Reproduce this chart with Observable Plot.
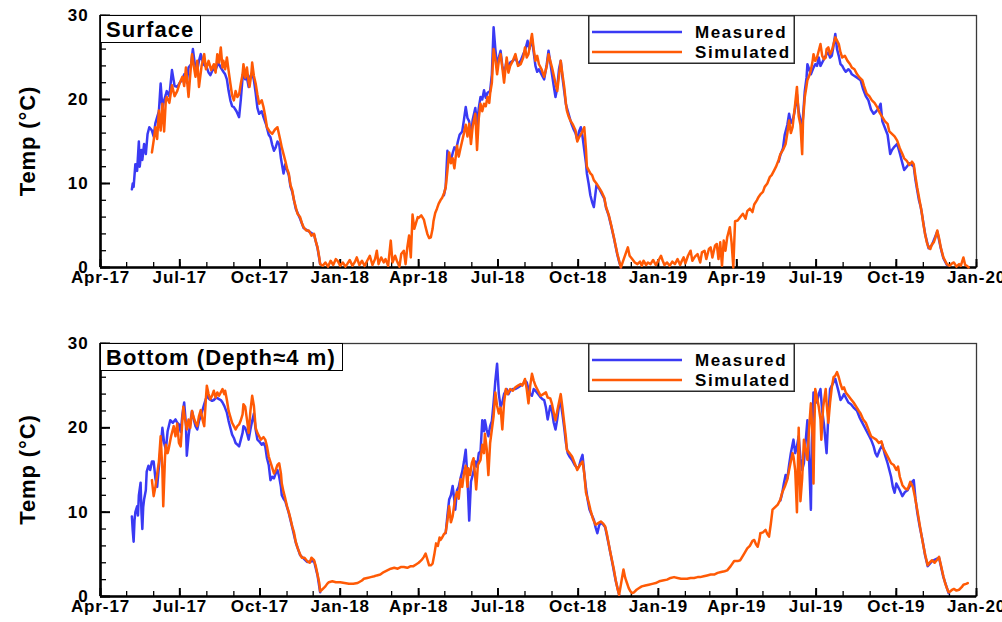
<!DOCTYPE html>
<html>
<head>
<meta charset="utf-8">
<script src="https://cdn.jsdelivr.net/npm/d3@7"></script>
<script src="https://cdn.jsdelivr.net/npm/@observablehq/plot@0.6"></script>
<style>
  html, body { margin: 0; padding: 0; background: #fff; overflow: hidden; }
  body { font-family: "Liberation Sans", Arial, sans-serif; }
  .panel { position: relative; width: 1002px; height: 311px; }
  .panel svg.plot { position: absolute; left: 0; top: 0; }
  .tag {
    position: absolute; left: 100px; box-sizing: border-box;
    height: 28px; line-height: 27px; padding: 0 6px 0 5px;
    border: 1.5px solid #000; background: #fff;
    font-weight: bold; font-size: 22px; color: #000; letter-spacing: 1.1px; white-space: nowrap;
  }
  .legend { position: absolute; left: 588px; width: 207px; height: 49px; }
</style>
</head>
<body>
<div class="panel" id="surface">
  <div class="tag" style="top:15px">Surface</div>
  <svg class="legend" style="top:15px" viewBox="0 0 207 49"></svg>
</div>
<div class="panel" id="bottom">
  <div class="tag" style="top:32px">Bottom (Depth≈4 m)</div>
  <svg class="legend" style="top:32px" viewBox="0 0 207 49"></svg>
</div>
<script>
// Water temperature at the surface and near the bottom, measured vs simulated.
// Each pair is [days since 2017-04-01, temperature in °C]; null marks a gap.
const startDate = "2017-04-01";
const endDate = "2020-01-01";
const seriesNames = ["Measured", "Simulated"];
const yTicks = [0, 10, 20, 30];
const yTitle = "Temp (°C)";

const surfaceSimulated = [
  [59,13.7],[61,15.1],[63,16.7],[65,15.3],[67,18.7],[69,16.3],[71,19.5],[73,16.2],[75,20.0],[76,20.3],[79,19.6],[82,21.7],[85,20.4],[88,21.0],[91,22.0],[94,22.7],[96,21.6],[98,23.8],[101,20.3],[103,23.0],[105,25.4],[107,24.0],[109,22.7],[111,24.6],[113,21.5],[116,24.0],[119,25.4],[121,23.6],[124,24.6],[127,23.5],[130,24.2],[132,23.2],[134,25.4],[136,24.4],[138,26.2],[140,23.8],[141,24.6],[143,23.6],[145,25.0],[147,23.4],[149,21.9],[151,20.5],[153,19.9],[155,21.0],[157,20.3],[159,20.6],[161,21.9],[163,23.0],[164,24.2],[166,22.6],[168,23.8],[170,22.0],[171,21.5],[173,23.0],[174,24.4],[176,22.8],[178,21.9],[180,20.6],[182,19.5],[185,19.9],[187,19.1],[189,18.0],[191,16.7],[194,16.2],[197,15.9],[200,16.4],[203,16.7],[206,15.3],[208,14.3],[210,13.5],[212,12.7],[214,11.8],[216,11.2],[218,9.8],[220,9.2],[222,8.0],[224,7.2],[226,6.4],[229,6.0],[231,5.3],[233,4.8],[236,4.4],[239,4.4],[242,3.8],[245,4.0],[247,3.1],[249,2.4],[251,1.2],[252,0.4],[255,0.2],[258,0.6],[261,0.1],[264,0.8],[267,0.3],[270,1.0],[272,0.8],[275,0.2],[278,0.6],[281,0.1],[283,0.4],[286,0.9],[289,0.2],[292,0.7],[294,1.2],[297,0.3],[300,0.8],[303,0.2],[306,0.8],[309,1.4],[312,0.3],[315,1.0],[317,2.0],[319,0.4],[322,1.2],[325,0.6],[327,1.0],[330,0.2],[333,3.2],[335,0.6],[338,1.4],[340,0.8],[343,0.1],[345,1.6],[348,2.0],[350,0.4],[352,2.4],[354,3.8],[356,1.2],[358,6.3],[360,4.6],[362,5.3],[364,6.0],[365,5.9],[368,6.2],[371,5.7],[373,4.8],[375,4.0],[377,3.5],[379,3.6],[381,4.6],[382,5.5],[384,6.5],[386,7.0],[388,7.6],[390,8.0],[392,8.3],[394,8.8],[396,9.5],[398,11.5],[400,13.7],[402,12.4],[404,13.0],[406,11.8],[408,13.6],[409,14.5],[411,13.2],[413,14.2],[415,15.1],[417,16.0],[419,17.0],[421,15.6],[423,17.1],[425,14.7],[427,16.8],[430,18.3],[432,14.0],[434,17.8],[436,19.5],[438,18.6],[440,19.5],[442,19.2],[444,20.3],[446,19.6],[447,20.7],[449,22.0],[451,26.0],[453,24.8],[455,23.0],[457,24.6],[459,25.4],[461,23.8],[463,22.0],[465,24.0],[466,25.0],[468,23.2],[470,24.0],[473,24.6],[476,25.4],[479,24.0],[482,24.2],[485,25.0],[487,26.2],[489,25.0],[491,25.4],[493,26.6],[495,27.8],[497,26.0],[499,24.6],[501,25.2],[503,24.2],[506,23.6],[509,22.7],[512,24.0],[514,25.4],[516,24.6],[518,23.8],[521,22.4],[524,21.0],[526,22.8],[528,24.6],[530,23.0],[532,21.5],[534,19.5],[535,18.7],[537,18.0],[539,17.5],[542,17.0],[545,16.3],[547,15.0],[549,15.5],[552,16.0],[555,16.7],[557,14.0],[558,12.0],[560,11.6],[562,11.2],[564,11.0],[566,10.4],[569,10.0],[572,9.5],[575,9.0],[578,8.3],[580,7.2],[583,6.3],[586,5.0],[589,3.6],[591,2.6],[593,1.6],[595,0.8],[597,0.0],[599,0.6],[601,1.2],[603,1.8],[605,2.4],[607,1.4],[610,1.0],[613,0.6],[616,0.4],[619,0.7],[621,0.2],[623,0.8],[626,0.3],[628,0.6],[631,0.4],[634,0.9],[637,0.3],[640,0.8],[643,1.4],[645,0.8],[647,0.3],[650,0.6],[653,0.2],[656,0.7],[659,0.4],[662,1.0],[665,0.3],[667,0.8],[669,1.2],[671,0.5],[674,1.4],[677,2.0],[679,0.8],[682,1.3],[685,1.6],[688,0.6],[690,1.8],[693,2.0],[695,1.0],[698,2.2],[700,2.4],[702,1.2],[705,2.6],[707,2.8],[709,1.0],[711,3.0],[713,0.2],[715,3.2],[717,2.0],[719,3.6],[722,4.8],[724,3.0],[726,0.0],[728,5.5],[731,5.6],[734,6.0],[737,6.4],[740,5.8],[742,6.7],[745,7.0],[748,6.6],[750,7.5],[753,8.0],[755,8.4],[757,8.7],[760,9.0],[762,9.6],[765,10.0],[768,10.8],[770,11.0],[773,11.6],[775,12.0],[778,12.8],[780,13.5],[783,14.0],[786,14.7],[788,16.0],[790,17.5],[792,16.0],[794,16.7],[796,18.6],[797,19.5],[799,21.5],[801,18.0],[803,17.0],[805,13.5],[806,17.5],[808,20.3],[810,21.6],[811,22.3],[813,22.8],[815,23.5],[817,24.6],[818,25.4],[820,24.6],[822,25.0],[824,25.8],[826,26.6],[828,25.2],[830,24.8],[832,25.0],[833,26.0],[835,26.2],[837,25.4],[839,25.8],[841,26.6],[843,27.4],[845,27.0],[847,26.6],[849,25.6],[851,25.0],[854,25.2],[857,24.6],[860,24.2],[862,23.8],[865,23.6],[868,23.0],[871,22.6],[874,22.3],[876,21.6],[879,20.7],[882,20.4],[885,19.9],[888,19.6],[891,19.1],[894,18.4],[897,17.9],[900,17.4],[903,17.1],[905,16.2],[908,15.9],[911,15.6],[914,15.1],[917,14.2],[920,13.5],[922,13.0],[925,12.7],[928,12.2],[931,12.6],[933,12.3],[935,10.8],[937,9.5],[940,7.8],[942,6.7],[944,5.2],[946,4.0],[948,3.0],[950,2.4],[952,2.2],[954,2.8],[956,3.0],[958,3.6],[960,4.4],[962,3.5],[964,2.4],[966,1.6],[967,1.2],[969,0.8],[971,0.4],[974,0.2],[977,0.5],[979,0.6],[982,0.1],[985,0.4],[987,0.2],[990,1.2],[992,0.3],[994,0.2],[996,0.0]
];

const surfaceMeasured = [
  [36,9.3],[37,10.0],[38,9.6],[40,12.3],[42,11.5],[44,15.0],[45,12.0],[47,14.0],[48,12.8],[50,14.7],[52,13.5],[54,15.9],[56,16.7],[59,16.3],[61,15.6],[63,17.2],[65,17.9],[67,18.6],[69,21.9],[71,19.0],[73,19.9],[75,20.6],[76,21.0],[79,20.4],[82,23.5],[85,21.6],[88,21.5],[91,22.0],[94,22.4],[96,23.0],[99,22.0],[101,23.8],[104,24.2],[106,26.0],[108,24.4],[111,23.5],[113,24.6],[115,25.4],[118,24.2],[120,24.0],[122,23.8],[124,23.2],[126,22.9],[129,23.6],[132,23.5],[135,24.4],[138,23.8],[141,23.3],[143,23.0],[145,22.4],[147,21.0],[149,19.9],[151,19.2],[153,19.1],[156,18.6],[159,17.9],[161,20.0],[163,22.6],[164,23.5],[166,22.4],[168,22.6],[170,21.5],[172,22.8],[174,23.2],[176,22.3],[178,20.8],[180,19.0],[182,18.3],[185,18.6],[187,17.9],[190,17.0],[193,15.8],[195,15.5],[197,14.6],[199,13.9],[201,14.3],[203,15.0],[205,14.7],[207,13.0],[208,12.4],[210,11.2],[212,12.3],[214,11.6],[216,11.0],[218,9.6],[220,9.0],[224,7.0],[229,5.8],[233,4.7],[239,4.3],[245,3.9],[249,2.3],[252,0.4],
  [253,null],
  [394,8.6],[396,9.6],[398,13.9],[400,13.0],[402,12.8],[404,13.6],[406,14.3],[408,14.0],[410,15.0],[412,15.8],[415,16.2],[417,17.6],[419,19.1],[421,17.8],[423,17.4],[425,15.4],[427,17.6],[430,19.0],[432,17.0],[434,19.0],[436,20.3],[438,20.0],[440,21.1],[442,20.2],[444,20.8],[447,21.0],[449,23.0],[451,28.6],[453,26.0],[455,24.0],[457,25.0],[459,25.8],[461,24.0],[463,23.0],[466,24.6],[468,23.6],[470,24.4],[473,24.6],[476,25.0],[479,24.2],[482,24.6],[485,25.4],[487,25.8],[490,27.0],[492,26.0],[495,27.2],[497,25.6],[499,24.0],[501,23.3],[503,23.6],[506,23.0],[509,22.4],[512,24.2],[514,25.8],[516,24.4],[518,23.0],[520,21.6],[522,20.3],[524,21.4],[526,23.6],[528,24.6],[530,22.6],[532,21.0],[534,19.4],[537,18.3],[540,17.2],[543,16.4],[545,16.0],[547,15.2],[549,16.2],[551,16.7],[553,15.6],[555,14.0],[557,12.4],[558,11.2],[560,10.0],[562,8.6],[564,7.8],[566,7.2],[569,9.8],[572,9.4],[575,8.8],[578,8.2],[580,7.1],[583,6.2],[586,4.9],[589,3.5],[591,2.5],[593,1.5],[595,0.7],[597,0.0],
  [598,null],
  [778,12.6],[780,13.4],[783,14.2],[785,15.8],[788,17.0],[790,18.3],[792,17.2],[794,17.5],[796,18.4],[797,19.0],[799,20.6],[801,18.6],[803,17.6],[805,16.4],[806,18.0],[808,21.0],[810,22.6],[811,24.2],[813,23.6],[815,23.0],[818,23.8],[820,24.2],[822,24.0],[824,25.0],[826,24.0],[828,24.4],[830,24.8],[833,25.4],[835,25.6],[837,25.0],[839,25.2],[841,26.4],[843,27.8],[845,26.0],[847,25.2],[849,24.2],[851,24.0],[853,23.6],[855,23.3],[858,23.6],[860,23.4],[862,23.0],[865,22.8],[868,22.6],[872,22.3],[875,21.2],[878,20.4],[881,19.9],[884,18.8],[887,18.3],[890,18.6],[893,19.0],[895,19.5],[897,17.4],[900,16.6],[903,15.8],[906,13.5],[908,14.0],[911,14.4],[914,14.7],[917,13.6],[920,12.4],[922,11.6],[925,12.0],[928,12.4],[931,12.2],[933,12.0],[935,10.4],[937,9.2],[939,8.0],[941,7.2],[943,6.0],[946,4.0],[950,2.3],[954,2.7],[960,4.3],[964,2.3],[967,1.1],[971,0.3]
];

const bottomSimulated = [
  [59,13.8],[61,11.9],[63,13.0],[65,14.5],[67,16.0],[69,19.0],[71,15.0],[72,10.7],[74,16.5],[75,18.0],[77,17.0],[78,17.4],[81,19.0],[84,20.2],[86,19.0],[88,20.5],[90,18.2],[92,17.8],[95,22.5],[97,21.0],[99,19.8],[101,21.0],[103,20.0],[105,22.0],[107,21.2],[109,20.6],[111,20.2],[113,21.4],[115,22.1],[117,21.0],[119,20.2],[121,23.6],[122,25.0],[124,24.0],[126,23.4],[128,23.8],[130,24.4],[132,23.6],[134,24.2],[136,23.8],[138,24.2],[140,24.6],[142,24.0],[143,24.4],[145,23.3],[147,22.0],[149,21.3],[151,20.6],[153,20.2],[155,19.8],[157,20.2],[159,20.4],[161,20.9],[163,21.6],[164,22.8],[166,22.5],[168,21.0],[170,19.4],[172,22.0],[174,23.8],[176,22.6],[178,20.0],[180,19.4],[182,19.0],[184,18.6],[187,18.9],[189,18.6],[191,17.8],[193,16.6],[196,15.6],[199,14.6],[201,15.0],[203,15.6],[205,15.8],[207,14.6],[208,13.4],[210,12.4],[212,11.6],[214,10.7],[216,10.0],[218,9.2],[220,8.3],[222,7.6],[224,6.5],[226,5.8],[229,5.0],[231,4.6],[234,4.6],[237,4.2],[240,4.0],[242,4.6],[245,4.3],[247,3.6],[249,2.6],[251,1.6],[252,0.6],[254,0.8],[256,1.0],[258,1.2],[260,1.5],[262,1.7],[266,1.8],[270,1.7],[275,1.7],[280,1.6],[285,1.5],[290,1.5],[295,1.6],[300,1.9],[302,2.1],[306,2.2],[310,2.3],[314,2.4],[317,2.5],[321,2.6],[325,2.9],[329,3.1],[333,3.3],[337,3.4],[341,3.3],[345,3.5],[348,3.5],[352,3.4],[356,3.6],[359,3.6],[362,3.8],[365,4.0],[367,4.2],[369,4.4],[371,4.7],[373,5.1],[375,4.4],[377,3.7],[379,3.7],[381,3.9],[383,5.0],[385,6.3],[387,6.0],[389,7.0],[390,6.7],[392,7.0],[394,7.4],[396,7.6],[398,9.0],[400,10.7],[402,8.8],[404,9.5],[406,11.0],[407,11.7],[409,12.4],[411,11.6],[413,13.9],[415,13.0],[417,14.6],[419,15.5],[421,13.0],[422,15.2],[424,14.4],[426,15.8],[428,16.4],[430,14.0],[431,12.7],[433,15.6],[436,16.2],[438,18.0],[440,17.0],[441,19.3],[443,17.6],[445,14.4],[447,18.2],[449,19.8],[451,21.4],[453,24.2],[455,22.6],[457,21.7],[459,22.4],[461,19.8],[463,23.0],[465,24.6],[467,24.0],[470,24.6],[473,24.4],[476,24.8],[479,25.0],[482,25.2],[484,25.0],[487,25.8],[489,24.6],[491,22.9],[493,25.0],[495,26.4],[497,25.6],[499,25.0],[502,24.4],[505,23.8],[508,24.0],[511,24.2],[513,23.6],[516,23.5],[518,22.8],[520,21.8],[522,20.9],[524,22.0],[526,23.0],[528,24.0],[530,22.4],[532,20.6],[534,18.8],[535,17.4],[538,17.0],[541,16.6],[544,15.8],[547,15.0],[550,15.6],[553,16.0],[555,14.6],[557,12.3],[560,11.2],[562,10.3],[565,9.2],[568,8.5],[571,8.7],[574,8.9],[577,8.6],[579,8.3],[581,7.4],[583,6.3],[585,5.2],[587,4.2],[589,3.2],[591,2.0],[593,1.0],[595,0.2],[597,1.4],[599,2.6],[600,3.2],[602,2.2],[604,1.6],[606,1.0],[608,0.6],[610,0.4],[612,0.5],[615,0.8],[618,1.0],[621,1.2],[625,1.3],[629,1.4],[633,1.5],[637,1.6],[641,1.8],[645,1.9],[650,2.0],[654,2.2],[658,2.3],[662,2.2],[666,2.1],[670,2.1],[673,2.1],[677,2.2],[681,2.2],[685,2.3],[688,2.3],[692,2.4],[696,2.5],[700,2.6],[704,2.6],[708,2.8],[712,2.9],[716,3.0],[719,3.1],[723,3.6],[727,4.2],[731,4.2],[734,4.3],[738,5.0],[742,5.7],[745,6.0],[748,6.6],[750,6.7],[752,6.2],[754,5.9],[756,6.8],[757,7.5],[760,7.6],[763,7.9],[765,7.4],[767,7.1],[769,8.6],[771,10.3],[774,10.6],[777,10.9],[780,11.5],[782,12.3],[785,13.0],[788,13.9],[790,15.0],[792,16.0],[794,17.0],[795,16.6],[797,15.0],[799,10.0],[801,20.0],[803,11.3],[805,14.0],[807,18.6],[809,17.4],[811,16.2],[813,20.0],[815,22.9],[817,19.0],[818,13.4],[819,20.0],[820,24.6],[822,23.6],[824,22.5],[826,21.0],[827,18.6],[829,22.4],[832,24.6],[833,23.0],[835,20.6],[837,23.0],[839,24.8],[841,26.0],[843,26.2],[845,26.6],[847,26.0],[849,25.2],[851,24.6],[853,24.8],[855,24.2],[858,23.8],[861,23.4],[864,23.0],[867,22.5],[870,22.0],[872,21.7],[875,21.0],[878,20.6],[881,19.8],[884,19.0],[887,18.8],[890,18.6],[893,18.2],[896,18.4],[898,17.6],[901,17.0],[904,16.4],[907,15.8],[910,15.6],[913,15.0],[915,15.4],[917,14.2],[920,13.2],[923,12.8],[926,12.7],[929,13.6],[932,13.0],[934,12.0],[937,10.3],[940,8.4],[943,6.6],[946,5.0],[949,3.7],[951,4.0],[954,4.3],[957,4.0],[960,4.4],[962,4.7],[964,3.8],[967,2.4],[969,1.6],[971,1.0],[973,0.5],[975,0.6],[977,0.8],[979,0.9],[982,0.7],[985,0.8],[988,1.1],[990,1.4],[993,1.5],[995,1.6]
];

const bottomMeasured = [
  [36,9.5],[37,7.8],[38,6.5],[39,9.0],[40,10.0],[42,10.7],[43,9.6],[44,12.0],[46,13.5],[47,10.0],[48,8.0],[49,10.6],[50,11.5],[52,12.6],[53,14.8],[55,15.5],[57,15.0],[59,16.0],[61,16.0],[63,14.0],[65,13.0],[67,15.4],[69,17.6],[71,20.0],[73,18.2],[75,17.4],[77,19.6],[80,20.9],[83,20.6],[86,21.0],[88,20.6],[90,20.4],[92,19.5],[94,21.6],[96,23.0],[98,20.4],[99,16.7],[101,19.0],[103,20.6],[105,22.0],[107,21.0],[109,20.2],[111,19.8],[113,20.8],[115,21.4],[117,22.1],[119,22.8],[122,23.8],[125,23.4],[128,23.2],[130,23.3],[133,23.6],[136,23.4],[138,23.3],[140,23.0],[142,22.6],[145,21.8],[147,20.8],[149,20.0],[151,19.2],[153,18.8],[155,18.2],[157,18.0],[159,17.8],[161,18.6],[163,19.4],[164,20.2],[166,20.0],[168,19.4],[170,18.6],[172,19.8],[174,20.8],[176,21.7],[178,19.8],[180,18.6],[182,18.4],[185,18.0],[187,18.2],[189,17.8],[191,16.4],[193,15.6],[195,13.8],[197,14.2],[199,14.0],[201,14.6],[203,15.0],[205,14.2],[207,13.0],[208,12.0],[210,11.6],[212,11.3],[214,10.6],[216,9.9],[220,8.2],[224,6.4],[229,4.9],[237,4.1],[245,4.2],[249,2.5],[252,0.5],
  [253,null],
  [396,7.5],[398,9.6],[400,11.5],[402,12.0],[404,13.1],[406,11.4],[407,10.3],[409,12.6],[411,13.0],[413,14.0],[415,14.8],[417,16.0],[419,17.4],[421,14.0],[423,9.0],[425,13.6],[428,14.8],[430,16.0],[432,15.4],[434,17.0],[436,17.2],[438,20.9],[440,19.6],[441,20.9],[443,19.8],[445,19.0],[447,20.2],[449,20.8],[451,23.0],[453,25.6],[455,27.6],[457,24.0],[459,22.5],[461,23.0],[463,24.0],[466,24.6],[468,24.0],[470,24.4],[473,24.6],[476,24.6],[479,24.8],[482,25.0],[485,25.2],[487,25.6],[489,25.4],[491,24.6],[493,24.0],[495,23.8],[497,24.6],[499,24.4],[502,24.0],[505,23.6],[507,23.4],[509,23.3],[511,22.4],[513,21.0],[516,22.6],[518,22.0],[520,20.6],[522,19.8],[524,21.0],[526,22.6],[528,23.0],[530,21.6],[532,20.0],[534,18.2],[536,17.0],[538,16.6],[541,16.2],[544,15.6],[547,15.2],[549,15.4],[551,16.2],[553,16.8],[555,14.6],[557,12.8],[559,11.4],[561,10.3],[563,9.8],[566,9.1],[568,8.2],[570,7.5],[572,8.4],[574,8.8],[577,8.5],[579,8.2],[583,6.2],[587,4.1],[591,1.9],[595,0.2],
  [596,null],
  [780,11.4],[782,12.2],[784,13.4],[786,14.4],[788,14.0],[790,15.6],[792,17.0],[795,18.6],[797,17.0],[799,17.8],[801,19.0],[803,16.4],[805,15.0],[807,15.8],[809,18.4],[811,20.9],[813,16.0],[815,10.3],[816,18.0],[818,24.2],[820,23.6],[822,23.0],[824,24.0],[826,24.6],[828,22.0],[830,20.4],[833,17.0],[835,21.4],[837,24.6],[839,25.0],[841,25.4],[843,25.8],[845,25.0],[847,24.2],[849,23.3],[851,23.6],[853,24.0],[855,23.6],[858,23.0],[861,22.8],[864,22.4],[868,22.0],[871,21.2],[873,20.8],[876,20.2],[879,19.6],[882,19.0],[884,18.6],[887,17.8],[889,17.0],[891,16.6],[894,17.4],[897,18.0],[900,16.8],[903,15.8],[905,15.0],[907,14.2],[909,13.0],[911,12.3],[913,13.4],[915,13.0],[917,12.6],[920,11.9],[923,12.4],[926,12.6],[929,13.2],[931,13.6],[933,13.8],[935,11.6],[937,10.0],[940,8.2],[943,6.7],[946,4.9],[949,3.6],[954,4.2],[962,4.6],[967,2.3],[973,0.4]
];

const colors = {Measured: "#3a3af4", Simulated: "#ff5a05"};
const font = '"Liberation Sans", Arial, sans-serif';

const t0 = new Date(startDate + "T00:00:00Z");
const t1 = new Date(endDate + "T00:00:00Z");
const toRows = (pairs) => pairs.map(([d, v]) => ({date: d3.utcDay.offset(t0, d), temp: v}));

const monthTicks = d3.utcMonth.range(t0, d3.utcDay.offset(t1, 1));
const quarterTicks = d3.utcMonth.every(3).range(t0, d3.utcDay.offset(t1, 1));
const minorY = d3.range(0, 31, 2);

const W = 1002, H = 311, ML = 100, MR = 26;

function drawPanel(id, measured, simulated, marginTop, marginBottom) {
  const innerW = W - ML - MR;
  const innerH = H - marginTop - marginBottom;
  const chart = Plot.plot({
    width: W,
    height: H,
    marginLeft: ML,
    marginRight: MR,
    marginTop,
    marginBottom,
    style: {fontFamily: font, fontWeight: "bold", fontSize: "17px", color: "#000", background: "transparent", letterSpacing: "0.9px"},
    x: {type: "utc", domain: [t0, t1]},
    y: {domain: [0, 30]},
    marks: [
      Plot.frame({stroke: "#3a3a3a", strokeWidth: 1.3}),
      Plot.axisY(yTicks, {tickSize: 0, tickPadding: 12, label: null}),
      Plot.axisX(quarterTicks, {tickSize: 0, tickPadding: 3, tickFormat: d3.utcFormat("%b-%y"), label: null}),
      // inward tick marks along the left and bottom edges
      Plot.tickY(minorY, {y: (d) => d, insetRight: innerW - 6, stroke: "#000", strokeWidth: 1.3}),
      Plot.tickY(yTicks, {y: (d) => d, insetRight: innerW - 10, stroke: "#000", strokeWidth: 2}),
      Plot.tickX(monthTicks, {x: (d) => d, insetTop: innerH - 5, stroke: "#000", strokeWidth: 1.3}),
      Plot.tickX(quarterTicks, {x: (d) => d, insetTop: innerH - 8, stroke: "#000", strokeWidth: 2}),
      Plot.ruleY([0], {stroke: "#000", strokeWidth: 2.6}),
      Plot.ruleX([t0], {stroke: "#000", strokeWidth: 2.6}),
      Plot.line(toRows(measured), {x: "date", y: "temp", stroke: colors.Measured, strokeWidth: 2.5}),
      Plot.line(toRows(simulated), {x: "date", y: "temp", stroke: colors.Simulated, strokeWidth: 2.5})
    ]
  });
  const host = document.getElementById(id);
  host.insertBefore(chart, host.firstChild);

  // rotated y-axis title, centred on the plotting area
  d3.select(chart).append("text")
    .attr("transform", `translate(27,${marginTop + innerH / 2}) rotate(-90)`)
    .attr("text-anchor", "middle").attr("dominant-baseline", "central")
    .attr("font-family", font).attr("font-weight", "bold").attr("font-size", 22)
    .attr("letter-spacing", "0.9px").attr("fill", "#000").text(yTitle);

  // legend: a short line sample and the series name
  const lg = d3.select(host).select("svg.legend");
  lg.append("rect").attr("x", 0.75).attr("y", 0.75).attr("width", 205.5).attr("height", 47.5)
    .attr("fill", "#fff").attr("stroke", "#2a2a2a").attr("stroke-width", 1.5);
  seriesNames.forEach((name, i) => {
    const y = 17 + i * 20;
    lg.append("line").attr("x1", 4).attr("x2", 94).attr("y1", y).attr("y2", y)
      .attr("stroke", colors[name]).attr("stroke-width", 2.4);
    lg.append("text").attr("x", 107).attr("y", y + 6).text(name)
      .attr("font-family", font).attr("font-weight", "bold").attr("font-size", 17)
      .attr("letter-spacing", "1.6px").attr("fill", "#000");
  });
}

drawPanel("surface", surfaceMeasured, surfaceSimulated, 15, 44);
drawPanel("bottom", bottomMeasured, bottomSimulated, 32, 26);
</script>
</body>
</html>
